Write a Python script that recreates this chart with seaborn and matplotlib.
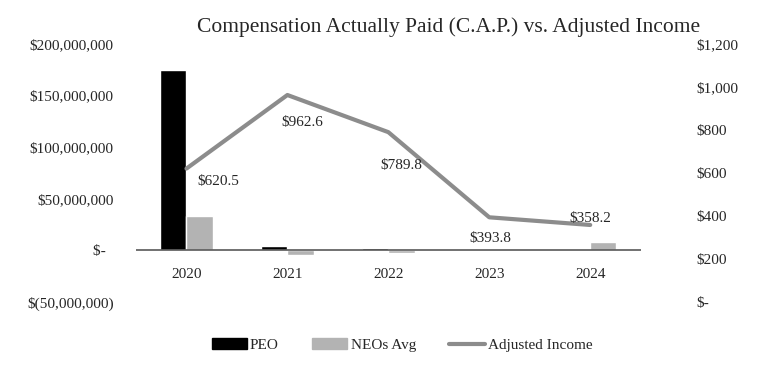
import pandas as pd
import seaborn as sns
import matplotlib.pyplot as plt
from matplotlib.patches import Patch
from matplotlib.lines import Line2D

years = ["2020", "2021", "2022", "2023", "2024"]
peo_cap = [175_000_000, 4_000_000, 2_500_000, 1_000_000, 1_000_000]
neo_cap = [33_000_000, -4_000_000, -2_500_000, 500_000, 8_000_000]
adj_income = [620.5, 962.6, 789.8, 393.8, 358.2]
income_labels = ["$620.5", "$962.6", "$789.8", "$393.8", "$358.2"]

sns.set_theme(style="white")
plt.rcParams["font.family"] = ["Liberation Serif", "DejaVu Serif"]

df = pd.DataFrame({
    "Jahr": years * 2,
    "CAP": peo_cap + neo_cap,
    "Gruppe": ["PEO"] * 5 + ["NEOs Avg"] * 5,
})

fig = plt.figure(figsize=(7.67, 3.66), dpi=100)
ax = fig.add_axes([0.1773, 0.1749, 0.658, 0.705])

sns.barplot(data=df, x="Jahr", y="CAP", hue="Gruppe",
            palette={"PEO": "#000000", "NEOs Avg": "#b3b3b3"},
            width=0.52, gap=0, ax=ax, legend=False)

ax.set_xlim(-0.5, 4.5)
ax.set_ylim(-50_000_000, 200_000_000)
ax.set_yticks([-50_000_000, 0, 50_000_000, 100_000_000, 150_000_000, 200_000_000])
ax.set_yticklabels(["$(50,000,000)", "$-  ", "$50,000,000", "$100,000,000",
                    "$150,000,000", "$200,000,000"], fontsize=11)
ax.axhline(0, color="#595959", lw=1.2, zorder=1)
for s in ax.spines.values():
    s.set_visible(False)
ax.set_xlabel("")
ax.set_ylabel("")
ax.set_xticks([])
ax.tick_params(axis="y", length=0, pad=16)
# Jahreslabels direkt unter der Nulllinie
for i, y in enumerate(years):
    ax.text(i, -23_000_000, y, ha="center", va="center", fontsize=11)

ax2 = ax.twinx()
sns.lineplot(x=list(range(5)), y=adj_income, color="#8c8c8c", lw=3, ax=ax2)
ax2.set_ylim(0, 1200)
ax2.set_yticks([0, 200, 400, 600, 800, 1000, 1200])
ax2.set_yticklabels(["$-", "$200", "$400", "$600", "$800", "$1,000", "$1,200"], fontsize=11)
ax2.tick_params(axis="y", length=0, pad=40)
for s in ax2.spines.values():
    s.set_visible(False)
ax2.set_ylabel("")

offsets = [(23, -9), (11, -20), (9, -24), (1, -15), (0, 5)]
for i, (v, t) in enumerate(zip(adj_income, income_labels)):
    ax2.annotate(t, (i, v), xytext=offsets[i], textcoords="offset points",
                 ha="center", va="center", fontsize=11)

fig.text(0.585, 0.925, "Compensation Actually Paid (C.A.P.) vs. Adjusted Income",
         ha="center", va="center", fontsize=15.5)

handles = [Patch(color="#000000"), Patch(color="#b3b3b3"),
           Line2D([0], [0], color="#8c8c8c", lw=3)]
fig.legend(handles, ["PEO", "NEOs Avg", "Adjusted Income"], ncol=3,
           loc="center", bbox_to_anchor=(0.524, 0.057), frameon=False,
           fontsize=11, handlelength=2.3, handleheight=0.7,
           handletextpad=0.2, columnspacing=2.2)

plt.savefig("out.png", dpi=100)
